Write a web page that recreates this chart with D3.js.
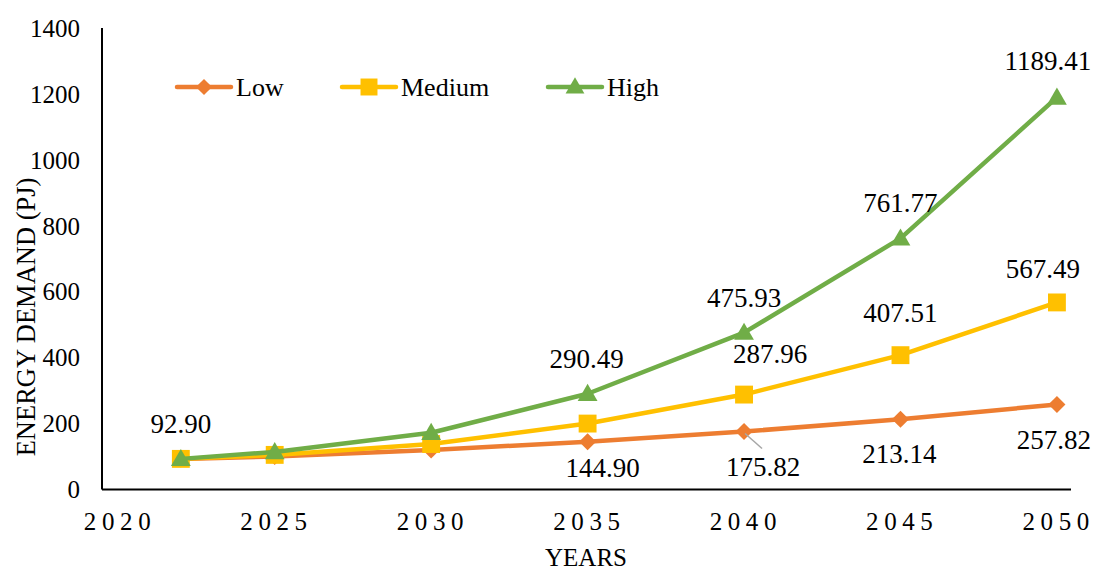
<!DOCTYPE html>
<html>
<head>
<meta charset="utf-8">
<script src="https://cdn.jsdelivr.net/npm/d3@7"></script>
<style>
  html, body { margin: 0; padding: 0; background: #fff; }
  svg { display: block; }
</style>
</head>
<body>
<svg id="chart" width="1096" height="570"></svg>
<script>
// Energy demand projections (PJ) under three growth scenarios
const years = [2022, 2025, 2030, 2035, 2040, 2045, 2050];
const lowValues = [92.90, 100, 120, 144.90, 175.82, 213.14, 257.82];
const mediumValues = [92.90, 105, 138, 200, 287.96, 407.51, 567.49];
const highValues = [92.90, 114, 172, 290.49, 475.93, 761.77, 1189.41];

const seriesNames = ["Low", "Medium", "High"];
const xTicks = [2020, 2025, 2030, 2035, 2040, 2045, 2050];
const yTicks = [0, 200, 400, 600, 800, 1000, 1200, 1400];

const xTitle = "YEARS";
const yTitle = "ENERGY DEMAND (PJ)";

// Which values get a data label: [series index, year index]
const labelled = [
  [0, 0], [0, 3], [0, 4], [0, 5], [0, 6],
  [1, 4], [1, 5], [1, 6],
  [2, 3], [2, 4], [2, 5], [2, 6]
];

const seriesValues = [lowValues, mediumValues, highValues];
const colors = ["#ED7D31", "#FFC000", "#70AD47"];
const symbols = [d3.symbolDiamond2, d3.symbolSquare, d3.symbolTriangle];
const symbolSizes = [185, 320, 170];
const serif = "Liberation Serif";

const svg = d3.select("#chart");

const x = d3.scaleLinear().domain([2019.48, 2050.45]).range([102, 1071]);
const y = d3.scaleLinear().domain([0, 1400]).range([489.5, 28]);

// Axis lines
svg.append("line")
  .attr("x1", x.range()[0]).attr("x2", x.range()[0])
  .attr("y1", y(1400)).attr("y2", y(0))
  .attr("stroke", "#000").attr("stroke-width", 2);
svg.append("line")
  .attr("x1", x.range()[0]).attr("x2", x.range()[1])
  .attr("y1", y(0)).attr("y2", y(0))
  .attr("stroke", "#000").attr("stroke-width", 2);

// Y tick labels
svg.append("g").selectAll("text")
  .data(yTicks).join("text")
  .attr("x", 80)
  .attr("y", d => y(d))
  .attr("dy", "0.35em")
  .attr("text-anchor", "end")
  .attr("font-size", 25)
  .attr("font-family", serif)
  .attr("fill", "#000")
  .text(d => d);

// X tick labels (letter-spaced)
const ls = 5.6;
svg.append("g").selectAll("text")
  .data(xTicks).join("text")
  .attr("x", d => x(d) + ls / 2 - 1)
  .attr("y", 530)
  .attr("text-anchor", "middle")
  .attr("font-size", 25)
  .attr("letter-spacing", ls)
  .attr("font-family", serif)
  .attr("fill", "#000")
  .text(d => d);

// Axis titles
svg.append("text")
  .attr("x", 586).attr("y", 566)
  .attr("text-anchor", "middle")
  .attr("font-size", 25)
  .attr("font-family", serif)
  .text(xTitle);
svg.append("text")
  .attr("transform", "translate(35,317) rotate(-90)")
  .attr("text-anchor", "middle")
  .attr("font-size", 26.5)
  .attr("font-family", serif)
  .text(yTitle);

// Lines and markers
const line = d3.line().x(d => x(d.year)).y(d => y(d.value));
seriesValues.forEach((vals, i) => {
  const pts = years.map((yr, j) => ({ year: yr, value: vals[j] }));
  const g = svg.append("g");
  g.append("path")
    .datum(pts)
    .attr("d", line)
    .attr("fill", "none")
    .attr("stroke", colors[i])
    .attr("stroke-width", 4.5)
    .attr("stroke-linejoin", "round")
    .attr("stroke-linecap", "round");
  g.selectAll("path.m")
    .data(pts).join("path")
    .attr("class", "m")
    .attr("transform", d => `translate(${x(d.year)},${y(d.value) + (i === 2 ? 1.5 : 0)})`)
    .attr("d", d3.symbol(symbols[i], symbolSizes[i]))
    .attr("fill", colors[i]);
});

// Data labels: placement relative to each point
const labelOffset = {
  "0,0": [0, -26], "0,3": [15, 35], "0,4": [19, 44.5], "0,5": [-1, 44], "0,6": [-3, 44.5],
  "1,4": [26, -31.6], "1,5": [0, -33], "1,6": [-14, -24],
  "2,3": [-1, -26], "2,4": [0, -26], "2,5": [0, -26], "2,6": [-9, -27.5]
};

// Leader line for the Low 2040 label
{
  const px = x(years[4]), py = y(lowValues[4]);
  svg.append("line")
    .attr("x1", px + 1).attr("y1", py + 2)
    .attr("x2", px + 18).attr("y2", py + 17)
    .attr("stroke", "#A6A6A6").attr("stroke-width", 1.5);
}

svg.append("g").selectAll("text")
  .data(labelled).join("text")
  .attr("x", ([s, j]) => x(years[j]) + labelOffset[s + "," + j][0])
  .attr("y", ([s, j]) => y(seriesValues[s][j]) + labelOffset[s + "," + j][1])
  .attr("text-anchor", "middle")
  .attr("font-size", 27)
  .attr("font-family", serif)
  .attr("fill", "#000")
  .text(([s, j]) => seriesValues[s][j].toFixed(2));

// Legend
const legendX = [177, 342, 548];
const legend = svg.append("g");
seriesNames.forEach((name, i) => {
  const lx = legendX[i], ly = 87;
  legend.append("line")
    .attr("x1", lx).attr("x2", lx + 54)
    .attr("y1", ly).attr("y2", ly)
    .attr("stroke", colors[i]).attr("stroke-width", 4.5)
    .attr("stroke-linecap", "round");
  legend.append("path")
    .attr("transform", `translate(${lx + 27},${ly + (i === 2 ? 1 : 0)})`)
    .attr("d", d3.symbol(symbols[i], symbolSizes[i] * 0.9))
    .attr("fill", colors[i]);
  legend.append("text")
    .attr("x", lx + 59).attr("y", ly)
    .attr("dy", "0.35em")
    .attr("font-size", 26)
    .attr("font-family", serif)
    .text(name);
});
</script>
</body>
</html>
